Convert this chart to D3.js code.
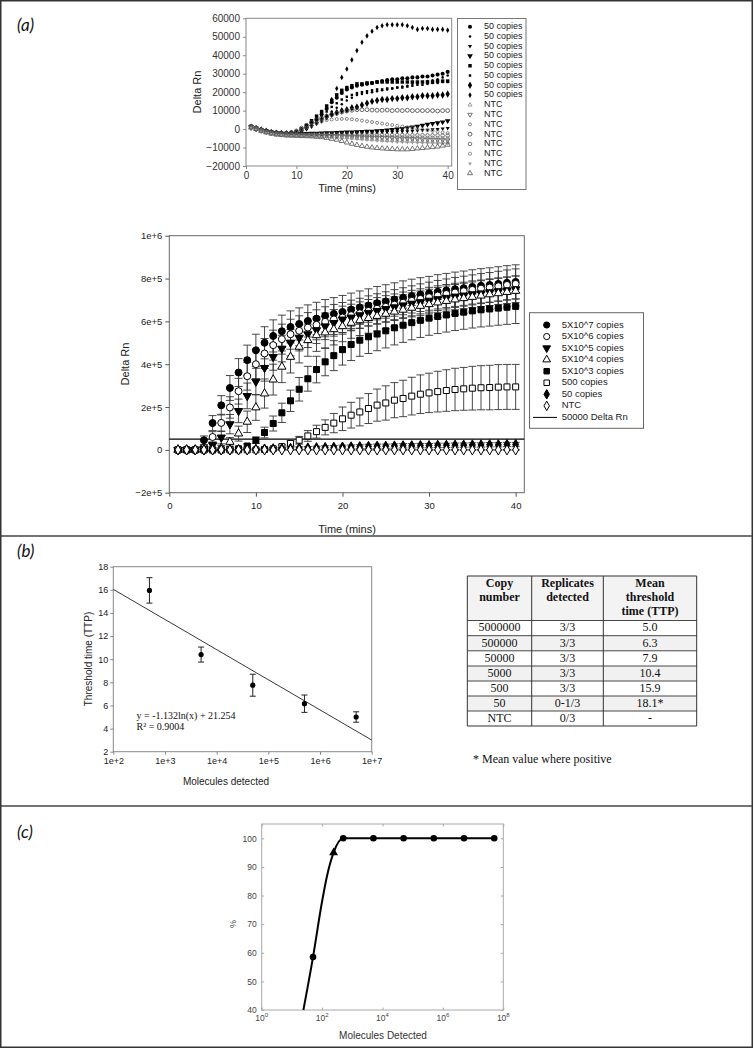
<!DOCTYPE html>
<html><head><meta charset="utf-8">
<script src="https://cdn.jsdelivr.net/npm/d3@7"></script>
<style>
body{margin:0;background:#fff;}
svg{display:block;}
</style></head><body>
<svg id="fig" width="754" height="1049"></svg>
<script>
// ---------------- DATA ----------------
const timePoints = [1,2,3,4,5,6,7,8,9,10,11,12,13,14,15,16,17,18,19,20,21,22,23,24,25,26,27,28,29,30,31,32,33,34,35,36,37,38,39,40];

// (a) top: Delta Rn in thousands, 8 replicate "50 copies" + 8 NTC
const topLabels = ["50 copies","50 copies","50 copies","50 copies","50 copies","50 copies","50 copies","50 copies","NTC","NTC","NTC","NTC","NTC","NTC","NTC","NTC"];
const topP1k = [1.0,0.2,-0.5,-1.2,-1.8,-2.2,-2.4,-2.5,-2.3,-1.8,-0.5,1.0,3.5,5.5,8.0,11.0,14.5,17.0,19.5,21.5,22.5,23.5,24.0,24.5,25.0,25.5,26.0,26.5,27.0,27.0,27.5,27.5,28.0,28.0,28.5,28.5,29.0,29.5,30.0,31.0];
const topP2k = [0.8,0.0,-0.8,-1.5,-2.0,-2.5,-2.8,-2.8,-2.6,-2.2,-1.2,0.0,1.5,3.0,5.0,7.0,9.5,11.5,13.5,15.5,17.0,18.5,19.0,19.5,20.0,20.5,21.0,21.5,22.0,22.5,23.0,23.5,24.5,25.0,25.5,26.0,26.5,27.0,28.0,29.0];
const topP3k = [1.0,0.2,-0.6,-1.2,-1.8,-2.2,-2.5,-2.7,-2.8,-2.8,-2.8,-2.8,-2.8,-2.8,-2.8,-2.7,-2.6,-2.5,-2.4,-2.3,-2.2,-2.1,-2.0,-2.0,-1.9,-1.8,-1.7,-1.6,-1.5,-1.4,-1.3,-1.2,-1.0,-0.8,-0.6,-0.4,-0.2,0.0,0.2,0.5];
const topP4k = [1.2,0.4,-0.4,-1.0,-1.6,-2.0,-2.3,-2.5,-2.6,-2.6,-2.6,-2.5,-2.4,-2.3,-2.2,-2.1,-2.0,-1.9,-1.8,-1.7,-1.6,-1.5,-1.4,-1.3,-1.2,-1.0,-0.8,-0.6,-0.3,0.0,0.3,0.6,1.0,1.5,2.0,2.5,3.0,3.3,3.8,4.5];
const topP5k = [1.5,0.5,-0.3,-1.0,-1.5,-1.9,-2.1,-2.2,-2.0,-1.5,0.0,2.0,4.5,7.0,9.5,12.5,15.5,18.5,21.0,22.5,23.5,24.5,24.5,25.0,25.0,25.5,25.5,25.5,25.5,25.5,25.5,25.5,25.5,25.5,25.5,25.5,25.5,26.0,26.0,26.0];
const topP6k = [0.5,-0.2,-0.9,-1.5,-2.0,-2.4,-2.6,-2.7,-2.6,-2.2,-1.0,0.5,2.5,4.5,7.0,9.5,12.0,14.0,16.0,17.5,18.5,19.5,20.0,20.5,21.0,21.5,21.5,22.0,22.0,22.5,22.5,23.0,23.5,24.0,24.0,24.5,25.0,25.0,25.5,25.5];
const topP7k = [1.0,0.3,-0.5,-1.2,-1.8,-2.2,-2.4,-2.5,-2.4,-2.0,-1.0,0.5,2.0,3.5,5.0,6.5,8.0,9.0,10.0,10.5,11.5,12.0,13.0,14.0,15.0,15.5,16.0,16.0,16.5,16.5,17.0,17.0,17.5,17.5,18.0,18.0,18.0,18.5,18.5,19.0];
const topP8k = [1.0,0.2,-0.5,-1.2,-1.8,-2.2,-2.5,-2.6,-2.5,-2.0,-0.5,1.0,3.0,5.0,8.0,11.5,16.0,22.0,28.0,32.5,37.5,42.5,47.0,50.5,53.0,55.0,56.0,56.5,56.5,56.5,56.5,56.0,55.0,54.0,54.5,54.5,54.0,54.0,54.0,53.5];
const topN1k = [1.0,0.0,-1.0,-1.8,-2.4,-2.8,-3.0,-3.2,-3.3,-3.4,-3.5,-3.5,-3.6,-3.7,-3.8,-3.9,-4.0,-4.2,-4.4,-4.6,-4.8,-5.0,-5.2,-5.4,-5.6,-5.8,-6.0,-6.1,-6.2,-6.3,-6.4,-6.5,-6.6,-6.7,-6.8,-6.9,-7.0,-7.0,-7.1,-7.2];
const topN2k = [1.2,0.3,-0.6,-1.4,-2.0,-2.5,-2.8,-3.0,-3.1,-3.2,-3.3,-3.3,-3.4,-3.4,-3.5,-3.5,-3.6,-3.7,-3.8,-4.0,-4.1,-4.2,-4.3,-4.4,-4.5,-4.6,-4.7,-4.8,-4.9,-5.0,-5.1,-5.2,-5.3,-5.4,-5.5,-5.6,-5.7,-5.8,-5.9,-6.0];
const topN3k = [1.0,0.2,-0.6,-1.3,-1.8,-2.2,-2.4,-2.4,-2.2,-1.6,-0.5,0.8,2.0,3.0,4.0,4.8,5.2,5.4,5.5,5.5,5.3,5.0,4.6,4.2,3.8,3.4,3.0,2.6,2.2,1.8,1.4,1.0,0.6,0.2,-0.2,-0.6,-1.0,-1.4,-1.8,-2.2];
const topN4k = [1.5,0.5,-0.3,-1.0,-1.6,-2.0,-2.2,-2.2,-1.8,-1.0,0.5,2.0,3.5,5.0,6.0,7.0,7.8,8.5,9.2,9.8,10.2,10.5,10.5,10.5,10.3,10.2,10.2,10.3,10.0,10.2,10.0,10.2,10.0,10.0,10.0,10.0,10.0,9.8,10.0,10.0];
const topN5k = [1.0,0.2,-0.7,-1.5,-2.1,-2.5,-2.8,-2.9,-3.0,-3.0,-3.0,-3.0,-3.0,-3.0,-3.0,-3.0,-3.0,-3.0,-3.0,-3.0,-3.0,-3.0,-3.1,-3.1,-3.1,-3.1,-3.1,-3.2,-3.2,-3.2,-3.2,-3.3,-3.3,-3.3,-3.3,-3.4,-3.4,-3.4,-3.5,-3.5];
const topN6k = [0.8,0.0,-0.9,-1.7,-2.3,-2.7,-3.0,-3.2,-3.3,-3.4,-3.5,-3.5,-3.5,-3.5,-3.6,-3.6,-3.7,-3.7,-3.8,-3.8,-3.9,-3.9,-4.0,-4.0,-4.1,-4.1,-4.2,-4.2,-4.3,-4.4,-4.4,-4.5,-4.5,-4.6,-4.6,-4.7,-4.7,-4.8,-4.9,-5.0];
const topN7k = [0.5,-0.3,-1.2,-2.0,-2.6,-3.0,-3.3,-3.5,-3.6,-3.7,-3.8,-3.9,-4.0,-4.1,-4.2,-4.3,-4.4,-4.6,-4.8,-5.0,-5.2,-5.4,-5.6,-5.8,-6.0,-6.2,-6.4,-6.6,-6.8,-7.0,-7.1,-7.2,-7.3,-7.4,-7.5,-7.6,-7.6,-7.7,-7.7,-7.8];
const topN8k = [0.8,0.0,-1.0,-1.8,-2.5,-3.0,-3.3,-3.5,-3.6,-3.7,-3.8,-3.9,-4.0,-4.2,-4.4,-4.8,-5.3,-5.8,-6.5,-7.3,-8.0,-8.6,-9.2,-9.6,-10.0,-10.3,-10.5,-10.7,-10.8,-11.0,-11.0,-11.0,-10.8,-10.5,-10.3,-10.0,-9.8,-9.5,-9.0,-8.5];
const topYTicks = [-20000,-10000,0,10000,20000,30000,40000,50000,60000];
const topXTicks = [0,10,20,30,40];

// (a) middle: mean Delta Rn (thousands) and error (thousands)
const midLabels = ["5X10^7 copies","5X10^6 copies","5X10^5 copies","5X10^4 copies","5X10^3 copies","500 copies","50 copies","NTC"];
const mid5e7k = [0,0,0,45,125,208,289,361,419,465,500,532,554,574,588,602,613,626,635,644,655,665,674,685,693,702,710,718,725,731,738,744,750,755,761,766,770,775,780,784];
const mid5e7Err = [0,0,0,20,35,45,58,65,70,75,75,75,75,75,75,75,76,76,76,77,77,77,78,78,78,78,79,79,79,79,80,80,80,80,80,80,80,80,80,80];
const mid5e6k = [0,0,0,10,60,126,198,274,344,400,450,489,517,540,556,571,584,598,609,618,629,638,649,659,668,678,687,696,705,713,721,728,735,741,747,753,758,764,770,775];
const mid5e6Err = [0,0,0,10,25,40,50,60,65,68,70,70,70,70,70,70,70,70,70,70,70,70,70,70,70,70,70,70,70,70,70,70,70,70,70,70,70,70,70,70];
const mid5e5k = [0,0,0,5,22,58,120,182,252,319,383,434,473,501,524,540,559,577,593,609,618,629,640,649,658,666,675,683,690,697,704,710,716,721,727,731,736,741,745,750];
const mid5e5Err = [0,0,0,5,15,30,45,55,60,62,62,62,62,62,62,62,62,62,62,62,62,62,62,62,62,62,62,62,62,62,62,62,62,62,62,62,62,62,62,62];
const mid5e4k = [0,0,0,2,5,10,37,76,131,198,263,328,388,434,481,512,535,548,563,577,593,605,615,625,635,645,654,663,672,680,688,695,702,708,714,720,726,731,737,742];
const mid5e4Err = [0,0,0,3,5,10,20,35,50,60,68,72,74,75,75,75,75,74,73,72,72,71,70,70,70,70,70,70,70,70,70,70,70,70,70,70,70,70,70,70];
const mid5e3k = [0,0,0,0,0,0,3,5,18,45,81,123,173,229,283,332,375,411,440,468,492,512,528,541,556,570,582,594,605,615,623,630,637,643,649,654,658,662,666,670];
const mid5e3Err = [0,0,0,0,0,2,3,5,10,15,25,35,45,50,55,58,62,65,70,72,75,75,78,78,80,80,80,80,80,80,80,80,80,80,80,80,80,80,80,80];
const mid500k = [0,0,0,0,0,0,0,0,0,0,2,5,15,30,45,65,85,105,125,145,162,177,193,209,219,232,240,251,260,266,272,277,282,285,288,290,291,293,294,294];
const mid500Err = [0,0,0,0,0,0,0,0,0,0,3,5,8,12,18,25,30,35,45,55,60,65,70,75,80,82,85,88,90,92,95,97,99,100,102,103,104,105,105,105];
const mid50k = [0,0,0,0,0,0,0,1,2,3,4,5,6,7,8,9,10,11,12,13,14,15,16,17,17,18,19,19,20,20,21,21,22,22,23,23,24,24,25,25];
const mid50Err = [0,0,0,0,0,0,0,1,2,3,4,5,5,6,6,7,7,8,8,9,9,9,10,10,10,10,10,10,10,10,10,10,10,10,10,10,10,10,10,10];
const midNTCk = [0,0,0,0,0,0,0,0,0,0,0,0,0,0,0,0,0,0,0,0,0,0,0,0,0,0,0,0,0,0,0,0,0,0,0,0,0,0,0,0];
const midNTCErr = [2,2,2,2,2,2,2,2,2,2,2,2,2,2,2,2,2,2,2,2,2,2,2,2,2,2,2,2,2,2,2,2,2,2,2,2,2,2,2,2];
const midThreshold = [50000];
const midThresholdLabel = "50000 Delta Rn";
const midYTicks = [-200000,0,200000,400000,600000,800000,1000000];
const midXTicks = [0,10,20,30,40];

// (b) threshold time vs molecules
const bMolecules = [500, 5000, 50000, 500000, 5000000];
const bTTP = [15.95, 10.4, 7.75, 6.15, 5.0];
const bErr = [1.1, 0.65, 0.95, 0.75, 0.45];
const bFitCoef = [-1.132, 21.254];   // y = a ln(x) + b (trendline shown on chart)
const bFitRange = [100, 10000000];
const bYTicks = [2,4,6,8,10,12,14,16,18];
const bXTicks = [1e2,1e3,1e4,1e5,1e6,1e7];
const bXTickLabels = ["1e+2","1e+3","1e+4","1e+5","1e+6","1e+7"];

// table
const tableHeader = [["Copy","number"],["Replicates","detected"],["Mean","threshold","time (TTP)"]];
const tableCopy = ["5000000","500000","50000","5000","500","50","NTC"];
const tableReps = ["3/3","3/3","3/3","3/3","3/3","0-1/3","0/3"];
const tableTTP = ["5.0","6.3","7.9","10.4","15.9","18.1*","-"];
const tableNote = "* Mean value where positive";

// (c) detection %
const cMolecules = [50, 500, 5000, 50000, 500000, 5000000, 50000000];
const cPercent = [58.5, 100, 100, 100, 100, 100, 100];
const cTriMolecules = [240];
const cTriPercent = [95];
const cCurveMolecules = [24, 50, 100, 143, 240, 500, 50000000];
const cCurvePercent = [40, 58.5, 78, 86.5, 95, 100, 100];
const cYTicks = [40,50,60,70,80,90,100];
const cXExponents = [0,2,4,6,8];

// ---------------- DRAW ----------------
const svg = d3.select("#fig");
const SANS = "'Liberation Sans', Arial, Helvetica, sans-serif";
const SERIF = "'Liberation Serif', 'Times New Roman', serif";

svg.append("rect").attr("x",0.75).attr("y",0.75).attr("width",751.5).attr("height",1046.5)
  .attr("fill","#fff").attr("stroke","#333").attr("stroke-width",1.5);
[536, 806].forEach(y => svg.append("line").attr("x1",1).attr("x2",752).attr("y1",y).attr("y2",y)
  .attr("stroke","#444").attr("stroke-width",1.5));

const panelLabels = [["(a)",31],["(b)",557],["(c)",838]];
panelLabels.forEach(([t,y]) => svg.append("text").attr("x",17).attr("y",y).text(t)
  .attr("font-family","Lato, 'Open Sans', sans-serif").attr("font-style","italic")
  .attr("font-size",17).attr("fill","#111"));

const symTypes = {circle:d3.symbolCircle, square:d3.symbolSquare, diamond:d3.symbolDiamond,
  triup:d3.symbolTriangle, tridown:d3.symbolTriangle};
function symPath(type,size){ return d3.symbol().type(symTypes[type]).size(size)(); }
function symTransform(type,x,y){ return `translate(${x},${y})` + (type==="tridown" ? " rotate(180)" : ""); }

function styleAxis(g, opts){
  g.select(".domain").remove();
  g.selectAll(".tick line").attr("stroke", opts.tickColor || "#666");
  g.selectAll(".tick text").attr("font-family", opts.font || SANS).attr("font-size", opts.fontSize)
    .attr("fill", opts.textColor || "#222");
}

// ===== (a) top plot =====
(function(){
  const x = d3.scaleLinear().domain([0,40.8]).range([246,451.7]);
  const y = d3.scaleLinear().domain([-20000,60000]).range([166,18.3]);
  const g = svg.append("g");
  g.append("g").attr("transform","translate(246,0)")
    .call(d3.axisLeft(y).tickValues(topYTicks).tickSize(3).tickPadding(3).tickFormat(d3.format("d")))
    .call(s=>styleAxis(s,{fontSize:10, tickColor:"#888", textColor:"#333"}));
  g.append("g").attr("transform","translate(0,166)")
    .call(d3.axisBottom(x).tickValues(topXTicks).tickSize(3).tickPadding(3))
    .call(s=>styleAxis(s,{fontSize:10, tickColor:"#888", textColor:"#333"}));
  g.append("rect").attr("x",246).attr("y",18.3).attr("width",451.7-246).attr("height",166-18.3)
    .attr("fill","none").attr("stroke","#888").attr("stroke-width",1);
  g.append("text").attr("transform","translate(198,92) rotate(-90)").attr("text-anchor","middle")
    .attr("dominant-baseline","middle").attr("font-family",SANS).attr("font-size",11).attr("fill","#222").text("Delta Rn");
  g.append("text").attr("x",347).attr("y",192).attr("text-anchor","middle")
    .attr("font-family",SANS).attr("font-size",11).attr("fill","#222").text("Time (mins)");

  const series = [
    {d:topP1k, t:"circle", s:13, fill:"#000", stroke:"none"},
    {d:topP2k, t:"circle", s:5, fill:"#000", stroke:"none"},
    {d:topP3k, t:"tridown", s:7, fill:"#000", stroke:"none"},
    {d:topP4k, t:"tridown", s:14, fill:"#000", stroke:"none"},
    {d:topP5k, t:"square", s:12, fill:"#000", stroke:"none"},
    {d:topP6k, t:"square", s:6, fill:"#000", stroke:"none"},
    {d:topP7k, t:"diamond", s:16, fill:"#000", stroke:"none"},
    {d:topP8k, t:"diamond", s:9, fill:"#000", stroke:"none"},
    {d:topN1k, t:"triup", s:7, fill:"none", stroke:"#888"},
    {d:topN2k, t:"tridown", s:9, fill:"none", stroke:"#555"},
    {d:topN3k, t:"circle", s:7, fill:"none", stroke:"#666"},
    {d:topN4k, t:"circle", s:12, fill:"none", stroke:"#444"},
    {d:topN5k, t:"circle", s:10, fill:"none", stroke:"#555"},
    {d:topN6k, t:"circle", s:8, fill:"none", stroke:"#777"},
    {d:topN7k, t:"tridown", s:6, fill:"#999", stroke:"none"},
    {d:topN8k, t:"triup", s:11, fill:"none", stroke:"#555"}
  ];
  const pg = g.append("g");
  series.forEach(se=>{
    pg.append("g").selectAll("path").data(se.d).join("path")
      .attr("d", symPath(se.t, se.s))
      .attr("transform",(v,i)=>symTransform(se.t, x(timePoints[i]), y(v*1000)))
      .attr("fill",se.fill).attr("stroke",se.stroke).attr("stroke-width",0.8);
  });
  // legend
  const lg = g.append("g");
  lg.append("rect").attr("x",457.5).attr("y",18.5).attr("width",68.5).attr("height",171)
    .attr("fill","#fff").attr("stroke","#777").attr("stroke-width",1);
  topLabels.forEach((lab,i)=>{
    const yy = 26.7 + i*9.77;
    const se = series[i];
    lg.append("path").attr("d",symPath(se.t,se.s)).attr("transform",symTransform(se.t,470,yy))
      .attr("fill",se.fill).attr("stroke",se.stroke).attr("stroke-width",0.8);
    lg.append("text").attr("x",484).attr("y",yy).attr("dominant-baseline","middle")
      .attr("font-family",SANS).attr("font-size",9).attr("fill","#222").text(lab);
  });
})();

// ===== (a) middle plot =====
(function(){
  const x = d3.scaleLinear().domain([0,41]).range([169.3,524.3]);
  const y = d3.scaleLinear().domain([-200000,1000000]).range([492.7,235.7]);
  const g = svg.append("g");
  const fmt = v => v===0 ? "0" : d3.format(".0e")(v);
  g.append("g").attr("transform","translate(169.3,0)")
    .call(d3.axisLeft(y).tickValues(midYTicks).tickSize(4).tickPadding(3).tickFormat(fmt))
    .call(s=>styleAxis(s,{fontSize:9.5, tickColor:"#555", textColor:"#222"}));
  g.append("g").attr("transform","translate(0,492.7)")
    .call(d3.axisBottom(x).tickValues(midXTicks).tickSize(4).tickPadding(6))
    .call(s=>styleAxis(s,{fontSize:9.5, tickColor:"#555", textColor:"#222"}));
  g.append("rect").attr("x",169.3).attr("y",235.7).attr("width",524.3-169.3).attr("height",492.7-235.7)
    .attr("fill","none").attr("stroke","#666").attr("stroke-width",1);
  g.append("text").attr("transform","translate(126,364) rotate(-90)").attr("text-anchor","middle")
    .attr("dominant-baseline","middle").attr("font-family",SANS).attr("font-size",11).attr("fill","#222").text("Delta Rn");
  g.append("text").attr("x",347).attr("y",533).attr("text-anchor","middle")
    .attr("font-family",SANS).attr("font-size",11).attr("fill","#222").text("Time (mins)");

  // threshold line
  g.selectAll("line.thr").data(midThreshold).join("line").attr("class","thr")
    .attr("x1",169.3).attr("x2",524.3).attr("y1",d=>y(d)).attr("y2",d=>y(d))
    .attr("stroke","#000").attr("stroke-width",1.2);

  const series = [
    {d:mid5e7k, e:mid5e7Err, t:"circle", s:38, fill:"#000", stroke:"#000"},
    {d:mid5e6k, e:mid5e6Err, t:"circle", s:38, fill:"#fff", stroke:"#000"},
    {d:mid5e5k, e:mid5e5Err, t:"tridown", s:30, fill:"#000", stroke:"#000"},
    {d:mid5e4k, e:mid5e4Err, t:"triup", s:30, fill:"#fff", stroke:"#000"},
    {d:mid5e3k, e:mid5e3Err, t:"square", s:36, fill:"#000", stroke:"#000"},
    {d:mid500k, e:mid500Err, t:"square", s:36, fill:"#fff", stroke:"#000"},
    {d:mid50k, e:mid50Err, t:"diamond", s:30, fill:"#000", stroke:"#000"},
    {d:midNTCk, e:midNTCErr, t:"diamond", s:30, fill:"#fff", stroke:"#000"}
  ];
  const eg = g.append("g").attr("stroke","#333").attr("stroke-width",0.9);
  series.forEach(se=>{
    se.d.forEach((v,i)=>{
      const err = se.e[i]; if(!err) return;
      const cx = x(timePoints[i]);
      const y1 = y((v+err)*1000), y0 = y((v-err)*1000);
      eg.append("line").attr("x1",cx).attr("x2",cx).attr("y1",y1).attr("y2",y0);
      eg.append("line").attr("x1",cx-4).attr("x2",cx+4).attr("y1",y1).attr("y2",y1);
      eg.append("line").attr("x1",cx-4).attr("x2",cx+4).attr("y1",y0).attr("y2",y0);
    });
  });
  series.forEach(se=>{
    g.append("g").selectAll("path").data(se.d).join("path")
      .attr("d",symPath(se.t,se.s))
      .attr("transform",(v,i)=>symTransform(se.t,x(timePoints[i]),y(v*1000)))
      .attr("fill",se.fill).attr("stroke",se.stroke).attr("stroke-width",1);
  });
  // legend
  const lg = g.append("g");
  lg.append("rect").attr("x",529.5).attr("y",312.7).attr("width",114).attr("height",115.6)
    .attr("fill","#fff").attr("stroke","#666").attr("stroke-width",1);
  midLabels.forEach((lab,i)=>{
    const yy = 325 + i*11.55;
    const se = series[i];
    lg.append("path").attr("d",symPath(se.t, se.t==="circle"||se.t==="square" ? 30 : 26)).attr("transform",symTransform(se.t,546.7,yy))
      .attr("fill",se.fill).attr("stroke",se.stroke).attr("stroke-width",1);
    lg.append("text").attr("x",561.7).attr("y",yy).attr("dominant-baseline","middle")
      .attr("font-family",SANS).attr("font-size",9.5).attr("fill","#222").text(lab);
  });
  const ly = 325 + 8*11.55;
  lg.append("line").attr("x1",533).attr("x2",557).attr("y1",ly).attr("y2",ly).attr("stroke","#000").attr("stroke-width",1);
  lg.append("text").attr("x",561.7).attr("y",ly).attr("dominant-baseline","middle")
    .attr("font-family",SANS).attr("font-size",9.5).attr("fill","#222").text(midThresholdLabel);
})();

// ===== (b) plot =====
(function(){
  const x = d3.scaleLog().domain([1e2,1e7]).range([113.3,371.7]);
  const y = d3.scaleLinear().domain([2,18]).range([751.7,566.7]);
  const g = svg.append("g");
  g.append("g").attr("transform","translate(113.3,0)")
    .call(d3.axisLeft(y).tickValues(bYTicks).tickSize(3).tickPadding(2).tickFormat(d3.format("d")))
    .call(s=>styleAxis(s,{fontSize:9, tickColor:"#888", textColor:"#222"}));
  g.append("g").attr("transform","translate(0,751.7)")
    .call(d3.axisBottom(x).tickValues(bXTicks).tickSize(3).tickPadding(3).tickFormat((d,i)=>bXTickLabels[i]))
    .call(s=>styleAxis(s,{fontSize:9, tickColor:"#888", textColor:"#222"}));
  g.append("rect").attr("x",113.3).attr("y",566.7).attr("width",371.7-113.3).attr("height",751.7-566.7)
    .attr("fill","none").attr("stroke","#888").attr("stroke-width",1);
  g.append("text").attr("transform","translate(89,659) rotate(-90)").attr("text-anchor","middle")
    .attr("dominant-baseline","middle").attr("font-family",SANS).attr("font-size",10).attr("fill","#222").text("Threshold time (TTP)");
  g.append("text").attr("x",226).attr("y",785).attr("text-anchor","middle")
    .attr("font-family",SANS).attr("font-size",10).attr("fill","#222").text("Molecules detected");
  // trendline
  const fitLine = d3.line().x(d=>x(d)).y(d=>y(bFitCoef[0]*Math.log(d)+bFitCoef[1]));
  g.append("path").attr("d",fitLine(bFitRange)).attr("fill","none").attr("stroke","#222").attr("stroke-width",0.9);
  // error bars
  bMolecules.forEach((m,i)=>{
    const cx = x(m), y1 = y(bTTP[i]+bErr[i]), y0 = y(bTTP[i]-bErr[i]);
    g.append("line").attr("x1",cx).attr("x2",cx).attr("y1",y1).attr("y2",y0).attr("stroke","#222");
    g.append("line").attr("x1",cx-3).attr("x2",cx+3).attr("y1",y1).attr("y2",y1).attr("stroke","#222");
    g.append("line").attr("x1",cx-3).attr("x2",cx+3).attr("y1",y0).attr("y2",y0).attr("stroke","#222");
  });
  g.append("g").selectAll("circle").data(bTTP).join("circle")
    .attr("cx",(d,i)=>x(bMolecules[i])).attr("cy",d=>y(d)).attr("r",2.6).attr("fill","#000");
  g.append("text").attr("x",136.5).attr("y",718.5).attr("font-family",SERIF).attr("font-size",10).attr("fill","#111")
    .text("y = -1.132ln(x) + 21.254");
  g.append("text").attr("x",136.5).attr("y",730).attr("font-family",SERIF).attr("font-size",10).attr("fill","#111")
    .text("R² = 0.9004");
})();

// ===== table =====
(function(){
  const g = svg.append("g");
  const colX = [467.3, 531.7, 603.3, 696.7];
  const rowY = [576, 620.5, 635.7, 650.8, 666, 681, 696, 711, 726];
  const rows = tableCopy.map((c,i)=>[c, tableReps[i], tableTTP[i]]);
  g.append("rect").attr("x",colX[0]).attr("y",rowY[0]).attr("width",colX[3]-colX[0]).attr("height",rowY[1]-rowY[0]).attr("fill","#f3f3f3");
  rows.forEach((r,i)=>{
    if(i%2===1) g.append("rect").attr("x",colX[0]).attr("y",rowY[i+1]).attr("width",colX[3]-colX[0])
      .attr("height",rowY[i+2]-rowY[i+1]).attr("fill","#f1f1f1");
  });
  tableHeader.forEach((lines,c)=>{
    const cx = (colX[c]+colX[c+1])/2;
    lines.forEach((ln,k)=>{
      g.append("text").attr("x",cx).attr("y",584 + k*14.3).attr("text-anchor","middle").attr("dominant-baseline","middle")
        .attr("font-family",SERIF).attr("font-weight","bold").attr("font-size",12).attr("fill","#111").text(ln);
    });
  });
  rows.forEach((r,i)=>{
    r.forEach((cell,c)=>{
      g.append("text").attr("x",(colX[c]+colX[c+1])/2).attr("y",(rowY[i+1]+rowY[i+2])/2+0.5)
        .attr("text-anchor","middle").attr("dominant-baseline","middle")
        .attr("font-family",SERIF).attr("font-size",12).attr("fill","#111").text(cell);
    });
  });
  rowY.forEach((yy,i)=>g.append("line").attr("x1",colX[0]).attr("x2",colX[3]).attr("y1",yy).attr("y2",yy)
    .attr("stroke","#333").attr("stroke-width",(i===0||i===rowY.length-1)?1.2:0.9));
  colX.forEach(xx=>g.append("line").attr("x1",xx).attr("x2",xx).attr("y1",rowY[0]).attr("y2",rowY[rowY.length-1])
    .attr("stroke","#333").attr("stroke-width",1));
  g.append("text").attr("x",473).attr("y",763).attr("font-family",SERIF).attr("font-size",12).attr("fill","#111").text(tableNote);
})();

// ===== (c) plot =====
(function(){
  const x = d3.scaleLog().domain([1,1e8]).range([261.7,503.3]);
  const y = d3.scaleLinear().domain([40,105]).range([1010,824]);
  const g = svg.append("g");
  const axC = "#a8a8a8", txC = "#444";
  g.append("rect").attr("x",261.7).attr("y",824).attr("width",503.3-261.7).attr("height",1010-824)
    .attr("fill","#fff").attr("stroke",axC).attr("stroke-width",1);
  g.append("g").attr("transform","translate(261.7,0)")
    .call(d3.axisLeft(y).tickValues(cYTicks).tickSizeInner(-2.5).tickSizeOuter(0).tickPadding(5))
    .call(s=>styleAxis(s,{fontSize:8.5, tickColor:axC, textColor:txC}));
  g.append("g").attr("transform","translate(503.3,0)")
    .call(d3.axisRight(y).tickValues(cYTicks).tickSizeInner(-2.5).tickSizeOuter(0).tickFormat(""))
    .call(s=>styleAxis(s,{fontSize:8.5, tickColor:axC, textColor:txC}));
  const xTickVals = cXExponents.map(e=>Math.pow(10,e));
  g.append("g").attr("transform","translate(0,1010)")
    .call(d3.axisBottom(x).tickValues(xTickVals).tickSizeInner(-2.5).tickSizeOuter(0).tickPadding(5).tickFormat(""))
    .call(s=>styleAxis(s,{fontSize:8.5, tickColor:axC, textColor:txC}));
  g.append("g").attr("transform","translate(0,824)")
    .call(d3.axisTop(x).tickValues(xTickVals).tickSizeInner(-2.5).tickSizeOuter(0).tickFormat(""))
    .call(s=>styleAxis(s,{fontSize:8.5, tickColor:axC, textColor:txC}));
  cXExponents.forEach((e,i)=>{
    const t = g.append("text").attr("x",x(xTickVals[i])).attr("y",1021).attr("text-anchor","middle")
      .attr("font-family",SANS).attr("font-size",8.5).attr("fill",txC);
    t.append("tspan").text("10");
    t.append("tspan").attr("dy",-4).attr("font-size",6).text(e);
  });
  g.append("text").attr("transform","translate(234,924) rotate(-90)").attr("text-anchor","middle")
    .attr("dominant-baseline","middle").attr("font-family",SANS).attr("font-size",9).attr("fill",txC).text("%");
  g.append("text").attr("x",383).attr("y",1038.5).attr("text-anchor","middle")
    .attr("font-family",SANS).attr("font-size",10).attr("fill","#333").text("Molecules Detected");
  const line = d3.line().x((d,i)=>x(cCurveMolecules[i])).y(d=>y(d)).curve(d3.curveMonotoneX);
  g.append("path").attr("d",line(cCurvePercent)).attr("fill","none").attr("stroke","#000").attr("stroke-width",2);
  g.append("g").selectAll("circle").data(cPercent).join("circle")
    .attr("cx",(d,i)=>x(cMolecules[i])).attr("cy",d=>y(d)).attr("r",3.3).attr("fill","#000");
  g.append("g").selectAll("path").data(cTriPercent).join("path")
    .attr("d",symPath("triup",34)).attr("transform",(d,i)=>`translate(${x(cTriMolecules[i])},${y(d)})`).attr("fill","#000");
})();
</script>
</body></html>
